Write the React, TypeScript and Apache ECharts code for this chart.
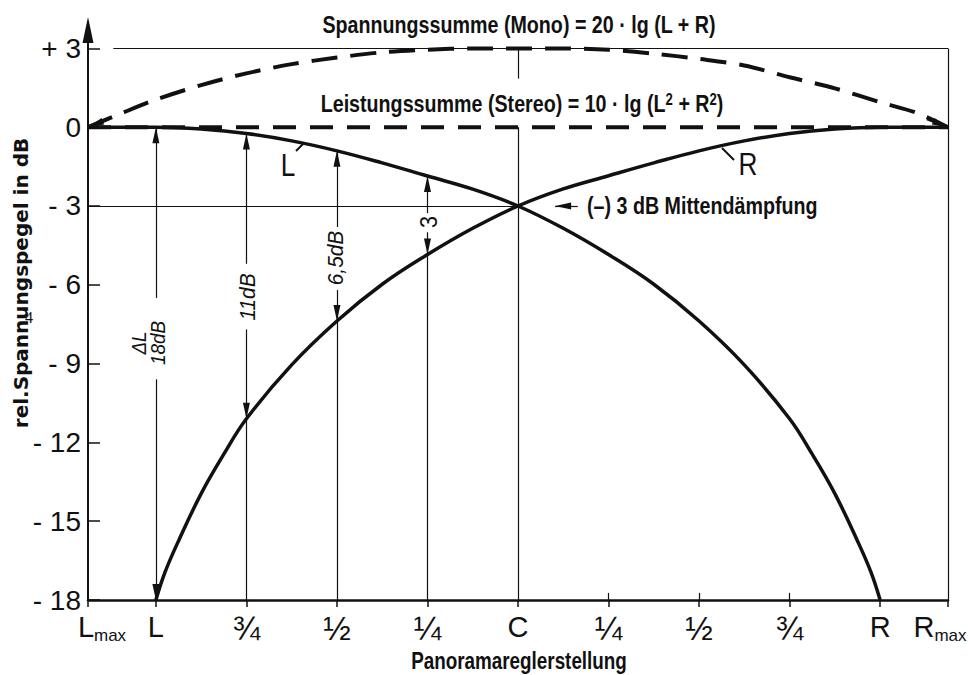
import React, { useEffect, useRef } from "react";
import * as echarts from "echarts";

// ---- data (x: pan position, C = 0, L = -4, R = +4, Lmax/Rmax = ±4.75; y: dB) ----
const X_POS = [-4.75, -4, -3, -2, -1, 0, 1, 2, 3, 4, 4.75];
const X_LABELS = ["{sp| }{m|L}{sub|max}", "{m|L}", "{f|¾}", "{f|½}", "{f|¼}", "{m|C}", "{f|¼}", "{f|½}", "{f|¾}", "{m|R}", "{m|R}{sub|max}{sp2| }"];
const Y_TICKS = [3, 0, -3, -6, -9, -12, -15, -18];
const Y_LABELS = ["+ 3", "0", "- 3", "- 6", "- 9", "- 12", "- 15", "- 18"];

const L_CURVE: number[][] = [
  [-4.75, 0], [-4, 0], [-3.5, -0.07], [-3, -0.24], [-2.5, -0.52], [-2, -0.9], [-1.5, -1.36], [-1, -1.86],
  [-0.5, -2.36], [0, -3], [0.5, -3.85], [1, -4.85], [1.5, -5.98], [2, -7.38], [2.5, -9.05], [3, -11.1],
  [3.25, -12.45], [3.5, -13.95], [3.75, -15.75], [3.9, -16.95], [4, -18],
];
const R_CURVE: number[][] = [
  [-4, -18], [-3.9, -16.95], [-3.75, -15.75], [-3.5, -13.95], [-3.25, -12.45], [-3, -11.1],
  [-2.5, -9.05], [-2, -7.38], [-1.5, -5.98], [-1, -4.85], [-0.5, -3.85], [0, -3], [0.5, -2.35], [1, -1.85],
  [1.5, -1.36], [2, -0.9], [2.5, -0.52], [3, -0.24], [3.5, -0.07], [4, 0], [4.75, 0],
];
const MONO: number[][] = [
  [-4.75, 0], [-4.4, 0.5], [-4, 1.05], [-3.5, 1.6], [-3, 2.05], [-2.5, 2.4], [-2, 2.65], [-1.5, 2.85],
  [-1, 2.95], [-0.5, 3.0], [0, 3.0], [0.5, 3.0], [1, 2.95], [1.5, 2.8], [2, 2.6], [2.5, 2.35], [3, 1.9],
  [3.5, 1.48], [4, 0.95], [4.4, 0.55], [4.75, 0],
];
const STEREO: number[][] = [[-4.75, 0], [4.75, 0]];

// guide lines: [x, fromY, toY, arrow at end]
const GUIDES: [number, number, number, boolean][] = [
  [-4, -6.5, 0, true], [-4, -9.6, -18, true],
  [-3, -5.2, -0.24, true], [-3, -7.7, -11.1, true], [-3, -11.1, -18, false],
  [-2, -3.8, -0.9, true], [-2, -6.2, -7.38, true], [-2, -7.38, -18, false],
  [-1, -3.27, -1.86, true], [-1, -4.0, -4.85, true], [-1, -4.85, -18, false],
  [0, 3, 1.85, false], [0, 0, -18, false],
  [4.75, 3, -18, false],
];
// horizontal lines: [fromX, toX, y, arrow at end]
const HLINES: [number, number, number, boolean][] = [
  [-4.47, 4.75, 3, false],
  [-4.75, 0, -3, false],
  [0.66, 0.41, -3, true],
];

const SANS = "'Liberation Sans',Arial,Helvetica,sans-serif";
const INK = "#111";
const COND = 0.82; // horizontal squeeze that mimics the condensed lettering

function seg(a: number[], b: number[], arrow: boolean) {
  return [
    { coord: a, symbol: "none" },
    arrow
      ? { coord: b, symbol: "triangle", symbolSize: [7, 16], symbolOffset: [0, 8] }
      : { coord: b, symbol: "none" },
  ];
}

function txt(x: number, y: number, text: string, o: any = {}, rotation = 0, scaleX = COND) {
  const { rich, ...rest } = o;
  return {
    type: "text",
    x,
    y,
    rotation,
    scaleX,
    style: {
      text,
      fontFamily: SANS,
      fontSize: 24,
      fill: INK,
      textAlign: "center",
      textVerticalAlign: "middle",
      ...rest,
      ...(rich ? { rich } : {}),
    },
  };
}

export default function App() {
  const ref = useRef<HTMLDivElement>(null);
  useEffect(() => {
    document.body.style.margin = "0";
    if (!ref.current) return;
    const chart = echarts.init(ref.current, null, { renderer: "svg" });
    const idxOf = (arr: number[], v: number) => arr.findIndex((p) => Math.abs(p - v) < 1e-6);

    const thin: any[] = [];
    GUIDES.forEach(([x, y1, y2, ar]) => thin.push(seg([x, y1], [x, y2], ar)));
    HLINES.forEach(([x1, x2, y, ar]) => thin.push(seg([x1, y], [x2, y], ar)));
    X_POS.filter((p) => p > 0 && p < 4).forEach((p) => thin.push(seg([p, -18], [p, -17.73], false)));

    const option: any = {
      animation: false,
      backgroundColor: "#fff",
      grid: { left: 88, right: 20, top: 30, bottom: 75, outerBoundsMode: "none", containLabel: false },
      xAxis: {
        type: "value",
        min: -4.75,
        max: 4.75,
        axisLine: { show: true, onZero: false, lineStyle: { color: INK, width: 2.5 } },
        axisTick: { show: true, customValues: X_POS, length: 7, lineStyle: { color: INK, width: 1.5 } },
        axisLabel: {
          customValues: X_POS,
          formatter: (v: number) => X_LABELS[idxOf(X_POS, v)] ?? "",
          margin: 12,
          color: INK,
          fontFamily: SANS,
          fontSize: 29,
          rich: {
            m: { fontFamily: SANS, fontSize: 29, lineHeight: 24, color: INK, verticalAlign: "top" },
            f: { fontFamily: SANS, fontSize: 33, lineHeight: 26, color: INK, verticalAlign: "top" },
            sub: { fontFamily: SANS, fontSize: 17, lineHeight: 46, color: INK },
            sp: { width: 28 },
            sp2: { width: 16 },
          },
        },
        splitLine: { show: false },
      },
      yAxis: {
        type: "value",
        min: -18,
        max: 3.7,
        axisLine: {
          show: true,
          onZero: false,
          symbol: ["none", "triangle"],
          symbolSize: [11, 26],
          lineStyle: { color: INK, width: 2 },
        },
        axisTick: { show: true, customValues: Y_TICKS, inside: true, length: 12, lineStyle: { color: INK, width: 1.5 } },
        axisLabel: {
          customValues: Y_TICKS,
          formatter: (v: number) => Y_LABELS[idxOf(Y_TICKS, v)] ?? "",
          margin: 7,
          color: INK,
          fontFamily: SANS,
          fontSize: 28,
          lineHeight: 22,
        },
        splitLine: { show: false },
      },
      series: [
        {
          name: "L",
          type: "line",
          data: L_CURVE,
          smooth: 0.4,
          symbol: "none",
          lineStyle: { color: INK, width: 3.5 },
          z: 4,
        },
        {
          name: "R",
          type: "line",
          data: R_CURVE,
          smooth: 0.4,
          symbol: "none",
          lineStyle: { color: INK, width: 3.5 },
          z: 4,
        },
        {
          name: "Mono",
          type: "line",
          data: MONO,
          smooth: 0.3,
          symbol: "none",
          lineStyle: { color: INK, width: 4, type: [26, 13] },
          z: 3,
          markLine: {
            silent: true,
            animation: false,
            symbol: "none",
            label: { show: false },
            lineStyle: { color: INK, width: 3, type: "solid" },
            data: [seg([4.52, 0.32], [4.75, 0], true), seg([-4.52, 0.32], [-4.75, 0], true)],
          },
        },
        {
          name: "Stereo",
          type: "line",
          data: STEREO,
          symbol: "none",
          lineStyle: { color: INK, width: 4, type: [23, 14] },
          z: 3,
          markLine: {
            silent: true,
            animation: false,
            symbol: "none",
            label: { show: false },
            lineStyle: { color: INK, width: 1.2, type: "solid" },
            data: thin,
          },
        },
      ],
      graphic: [
        txt(519, 25, "Spannungssumme (Mono) = 20 · lg (L + R)", { fontWeight: "bold" }),
        txt(522, 104, "Leistungssumme (Stereo) = 10 · lg (L{sup|2} + R{sup|2})", {
          fontWeight: "bold",
          rich: { sup: { fontFamily: SANS, fontWeight: "bold", fontSize: 16, verticalAlign: "top", fill: INK } },
        }),
        txt(587, 206, "(–) 3 dB Mittendämpfung", { fontWeight: "bold", textAlign: "left" }),
        txt(148, 343, "ΔL\n18dB", { fontStyle: "italic", fontSize: 21, lineHeight: 19 }, Math.PI / 2, 0.9),
        txt(248, 297, "11dB", { fontStyle: "italic", fontSize: 22 }, Math.PI / 2, 0.95),
        txt(336, 258, "6,5dB", { fontStyle: "italic", fontSize: 22 }, Math.PI / 2, 0.95),
        txt(429, 222, "3", { fontSize: 24 }, Math.PI / 2, 0.9),
        txt(288, 165, "L", { fontSize: 32 }),
        { type: "line", shape: { x1: 296, y1: 151, x2: 304, y2: 143 }, style: { stroke: INK, lineWidth: 2 } },
        txt(748, 164, "R", { fontSize: 32 }),
        { type: "line", shape: { x1: 722, y1: 148, x2: 734, y2: 160 }, style: { stroke: INK, lineWidth: 2 } },
        txt(21, 283, "rel.Spannungspegel in dB", { fontFamily: "'DejaVu Sans',sans-serif", fontWeight: "bold", fontSize: 20 }, Math.PI / 2, 1),
        txt(519, 661, "Panoramareglerstellung", { fontWeight: "bold", fontSize: 23 }),
        txt(29, 317, "4", { fontFamily: "'Liberation Serif',serif", fontSize: 16 }, 0, 1),
      ],
    };
    chart.setOption(option);
    return () => chart.dispose();
  }, []);
  return <div ref={ref} style={{ width: 968, height: 675 }} />;
}
